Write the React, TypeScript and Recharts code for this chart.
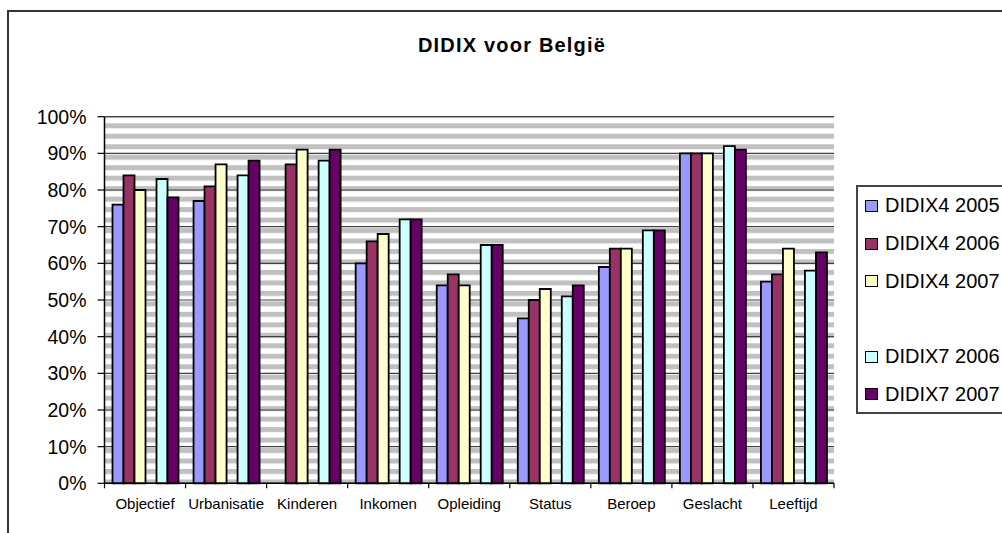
import { BarChart, Bar, XAxis, YAxis, CartesianGrid, Legend } from "recharts";

// DIDIX scores per dimension (percent)
const categories = ["Objectief", "Urbanisatie", "Kinderen", "Inkomen", "Opleiding", "Status", "Beroep", "Geslacht", "Leeftijd"];
const didix4_2005 = [76, 77, null, 60, 54, 45, 59, 90, 55];
const didix4_2006 = [84, 81, 87, 66, 57, 50, 64, 90, 57];
const didix4_2007 = [80, 87, 91, 68, 54, 53, 64, 90, 64];
const didix7_2005 = [null, null, null, null, null, null, null, null, null];
const didix7_2006 = [83, 84, 88, 72, 65, 51, 69, 92, 58];
const didix7_2007 = [78, 88, 91, 72, 65, 54, 69, 91, 63];
const yTicks = [0, 10, 20, 30, 40, 50, 60, 70, 80, 90, 100];

const series = [
  { key: "d4_2005", name: "DIDIX4 2005", color: "#9999FF" },
  { key: "d4_2006", name: "DIDIX4 2006", color: "#993366" },
  { key: "d4_2007", name: "DIDIX4 2007", color: "#FFFFCC" },
  { key: "d7_2005", name: "", color: "#FFFFFF" },
  { key: "d7_2006", name: "DIDIX7 2006", color: "#CCFFFF" },
  { key: "d7_2007", name: "DIDIX7 2007", color: "#660066" },
];

const data = categories.map((c, i) => ({
  name: c,
  d4_2005: didix4_2005[i],
  d4_2006: didix4_2006[i],
  d4_2007: didix4_2007[i],
  d7_2005: didix7_2005[i],
  d7_2006: didix7_2006[i],
  d7_2007: didix7_2007[i],
}));

const FONT = '"Liberation Sans", Arial, sans-serif';

// tick marks sit between categories, labels in the middle (Excel style)
function CategoryTick(props: any) {
  const { x, y, payload, index } = props;
  const half = payload?.offset ?? 40.5;
  return (
    <g>
      <line x1={x - half} x2={x - half} y1={y} y2={y + 5} stroke="#000" strokeWidth={1.2} />
      {index === categories.length - 1 && (
        <line x1={x + half} x2={x + half} y1={y} y2={y + 5} stroke="#000" strokeWidth={1.2} />
      )}
      <text x={x} y={y + 20} textAnchor="middle" dominantBaseline="central" fontSize={15} fill="#000" fontFamily={FONT}>
        {payload.value}
      </text>
    </g>
  );
}

function LegendBox() {
  return (
    <div style={{ width: 200, height: 229, border: "2px solid #444", boxSizing: "border-box", background: "#fff" }}>
      {series.map((s) => (
        <div key={s.key} style={{ height: 37.7, display: "flex", alignItems: "center", paddingLeft: 7 }}>
          {s.name && (
            <>
              <span style={{ width: 11, height: 10, background: s.color, border: "1.5px solid #000", display: "inline-block" }} />
              <span style={{ marginLeft: 7, fontSize: 20, color: "#000", fontFamily: FONT, whiteSpace: "nowrap" }}>{s.name}</span>
            </>
          )}
        </div>
      ))}
    </div>
  );
}

export default function App() {
  return (
    <div style={{ position: "fixed", left: 0, top: 0, width: 1002, height: 533, overflow: "hidden", background: "#fff", fontFamily: FONT }}>
      <div style={{ position: "absolute", left: 7, top: 10, width: 1100, height: 600, border: "2px solid #333" }} />
      <div style={{ position: "absolute", left: 312, top: 33, width: 400, textAlign: "center", fontSize: 20, lineHeight: "24px", fontWeight: "bold", letterSpacing: 1.2, color: "#000" }}>
        DIDIX voor België
      </div>
      <div style={{ position: "absolute", left: 0, top: 0 }}>
        <BarChart
          width={1002}
          height={533}
          data={data}
          margin={{ top: 116.7, right: 168, bottom: 19.7, left: 14.5 }}
          barSize={11}
          barGap={0}
        >
          <defs>
            <pattern id="stripes" patternUnits="userSpaceOnUse" x={0} y={8.06} width={20} height={10.476}>
              <rect x={0} y={0} width={20} height={10.476} fill="#fff" />
              <rect x={0} y={0} width={20} height={5} fill="#c0c0c0" />
            </pattern>
          </defs>
          <CartesianGrid vertical={false} fill="url(#stripes)" fillOpacity={1} stroke="#404040" strokeWidth={1.2} />
          <XAxis
            dataKey="name"
            interval={0}
            height={30}
            tickSize={0}
            tickMargin={0}
            tickLine={false}
            axisLine={{ stroke: "#000", strokeWidth: 1.5 }}
            tick={<CategoryTick />}
          />
          <YAxis
            domain={[0, 100]}
            ticks={yTicks}
            width={90}
            tickSize={7}
            tickMargin={11}
            tickFormatter={(v: number) => `${v}%`}
            tick={{ fontSize: 19.5, fill: "#000", fontFamily: FONT }}
            axisLine={{ stroke: "#000", strokeWidth: 1.5 }}
            tickLine={{ stroke: "#000", strokeWidth: 1.2 }}
          />
          <YAxis yAxisId="frame" orientation="right" width={0} tick={false} tickLine={false} axisLine={{ stroke: "#808080", strokeWidth: 1.5 }} />
          <Legend
            layout="vertical"
            align="center"
            verticalAlign="middle"
            wrapperStyle={{ left: 856, top: 185, width: 200 }}
            content={() => <LegendBox />}
          />
          {series.map((s) => (
            <Bar key={s.key} dataKey={s.key} name={s.name} fill={s.color} stroke="#000" strokeWidth={1.8} isAnimationActive={false} />
          ))}
        </BarChart>
      </div>
    </div>
  );
}
